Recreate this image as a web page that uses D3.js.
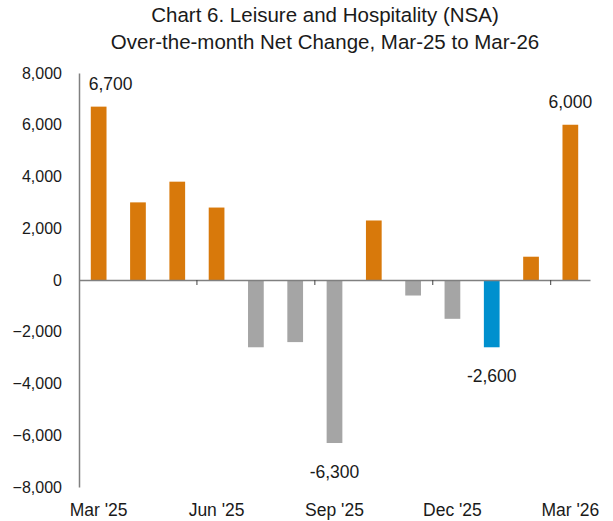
<!DOCTYPE html>
<html><head><meta charset="utf-8">
<script src="https://cdn.jsdelivr.net/npm/d3@7"></script>
<style>body{margin:0;background:#fff}svg{display:block}</style>
</head><body><div id="chart"></div>
<script>
const months = ["Mar '25","Apr '25","May '25","Jun '25","Jul '25","Aug '25","Sep '25","Oct '25","Nov '25","Dec '25","Jan '26","Feb '26","Mar '26"];
const values = [6700,3000,3800,2800,-2600,-2400,-6300,2300,-600,-1500,-2600,900,6000];
const tickLabelMonths = ["Mar '25","Jun '25","Sep '25","Dec '25","Mar '26"];
const yTicks = [8000,6000,4000,2000,0,-2000,-4000,-6000,-8000];
const labeled = {"Mar '25":"6,700","Sep '25":"-6,300","Jan '26":"-2,600","Mar '26":"6,000"};
const highlight = "Jan '26";
const titleLines = ["Chart 6. Leisure and Hospitality (NSA)","Over-the-month Net Change, Mar-25 to Mar-26"];

const W=613,H=521;
const svg=d3.select("#chart").append("svg").attr("width",W).attr("height",H);
const font="Liberation Sans, Arial, sans-serif";
const x=d3.scaleBand().domain(months).range([79,590]).paddingInner(0.6).paddingOuter(0.3);
const y=d3.scaleLinear().domain([-8000,8000]).range([487,73]);

svg.selectAll("text.title").data(titleLines).join("text")
  .attr("x",325).attr("y",(d,i)=>22+i*27).attr("text-anchor","middle")
  .attr("font-family",font).attr("font-size",20.5).attr("fill","#1a1a1a").text(d=>d);

// bars
svg.selectAll("rect.bar").data(months).join("rect")
  .attr("x",d=>x(d)).attr("width",x.bandwidth())
  .attr("y",(d,i)=>y(Math.max(0,values[i])))
  .attr("height",(d,i)=>Math.abs(y(values[i])-y(0)))
  .attr("fill",(d,i)=>d===highlight?"#0090CE":(values[i]>=0?"#D8790B":"#A5A5A5"));

// y axis
const yAxis=svg.append("g").attr("transform","translate(79,0)")
  .call(d3.axisLeft(y).tickValues(yTicks).tickSize(0).tickPadding(17).tickFormat(d3.format(",")));
yAxis.select(".domain").attr("stroke","#808080").attr("stroke-width",1.5);
yAxis.selectAll("text").attr("font-family",font).attr("font-size",16).attr("fill","#1a1a1a");

// zero line with ticks
const xAxis=svg.append("g").attr("transform",`translate(0,${y(0)})`)
  .call(d3.axisBottom(x).tickValues(tickLabelMonths).tickSize(0).tickFormat(""));
xAxis.select(".domain").attr("stroke","#808080").attr("stroke-width",1.5);
const step=x.step();
svg.selectAll("line.tk").data(tickLabelMonths.slice(1)).join("line")
  .attr("x1",d=>x(d)+x.bandwidth()/2-step/2).attr("x2",d=>x(d)+x.bandwidth()/2-step/2)
  .attr("y1",y(0)).attr("y2",y(0)+5).attr("stroke","#404040").attr("stroke-width",1);

// x labels at bottom
svg.selectAll("text.xl").data(tickLabelMonths).join("text")
  .attr("x",d=>x(d)+x.bandwidth()/2).attr("y",516).attr("text-anchor","middle")
  .attr("font-family",font).attr("font-size",17.5).attr("fill","#1a1a1a").text(d=>d);

// data labels
svg.selectAll("text.dl").data(months.filter(m=>labeled[m])).join("text")
  .attr("x",d=>x(d)+x.bandwidth()/2+(d===months[0]?12:0))
  .attr("y",d=>{const v=values[months.indexOf(d)];return v>=0?y(v)-17:y(v)+35;})
  .attr("text-anchor","middle").attr("font-family",font).attr("font-size",17.5).attr("fill","#1a1a1a")
  .text(d=>labeled[d]);
</script></body></html>
